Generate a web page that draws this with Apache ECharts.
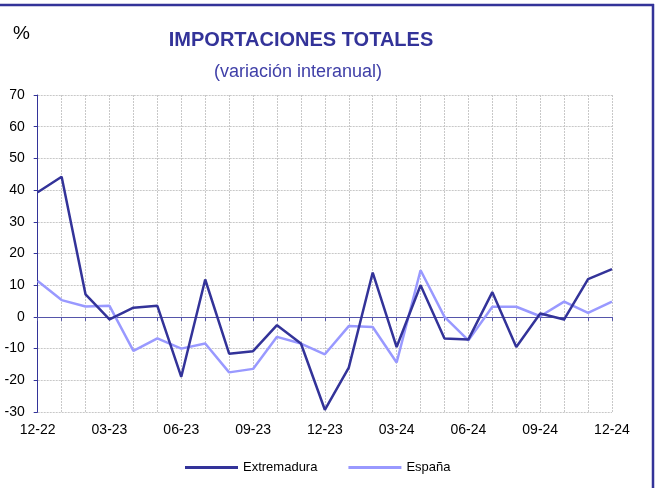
<!DOCTYPE html>
<html lang="es">
<head>
    <meta charset="UTF-8">
    <title>Importaciones totales</title>
    <script src="https://cdn.jsdelivr.net/npm/echarts@6/dist/echarts.min.js"></script>
    <style>
        html, body { margin: 0; padding: 0; background: #fff; }
    </style>
</head>
<body>
    <div id="main" style="width:656px;height:488px;"></div>
<script type="text/javascript">
    // meses (mm-aa)
    var meses = ['12-22', '01-23', '02-23', '03-23', '04-23', '05-23', '06-23', '07-23', '08-23', '09-23', '10-23', '11-23',
                 '12-23', '01-24', '02-24', '03-24', '04-24', '05-24', '06-24', '07-24', '08-24', '09-24', '10-24', '11-24', '12-24'];

    // variación interanual (%)
    var extremadura = [39.3, 44.2, 7.1, -0.8, 2.9, 3.5, -18.9, 11.8, -11.6, -10.8, -2.6, -8.4,
                       -29.3, -16.0, 14.0, -9.5, 10.0, -6.8, -7.1, 7.8, -9.5, 1.1, -0.8, 11.9, 15.1];
    var espana = [11.3, 5.3, 3.3, 3.5, -10.7, -6.8, -10.0, -8.4, -17.5, -16.4, -6.3, -8.4,
                  -11.8, -2.9, -3.2, -14.4, 14.7, 0.0, -7.4, 3.2, 3.2, 0.2, 4.8, 1.3, 4.8];

    var font = 'Liberation Sans, Arial, sans-serif';
    var azul = '#333399';
    var claro = '#9999ff';
    var gris = '#c8c8c8';

    var myChart = echarts.init(document.getElementById('main'));

    var option = {
        backgroundColor: '#fff',
        animation: false,
        title: [
            {
                text: 'IMPORTACIONES TOTALES',
                left: 296, top: 25, textAlign: 'center',
                textStyle: { fontFamily: font, fontSize: 20, fontWeight: 'bold', color: azul }
            },
            {
                text: '(variación interanual)',
                left: 293, top: 58, textAlign: 'center',
                textStyle: { fontFamily: font, fontSize: 18, fontWeight: 'normal', color: '#4040a8' }
            },
            {
                text: '%',
                left: 8, top: 19,
                textStyle: { fontFamily: font, fontSize: 19, fontWeight: 'normal', color: '#000' }
            }
        ],
        legend: {
            left: 180, top: 456,
            itemWidth: 53, itemHeight: 3, itemGap: 31,
            icon: 'rect',
            textStyle: { fontFamily: font, fontSize: 13, color: '#000' },
            data: ['Extremadura', 'España']
        },
        grid: { left: 37.7, right: 44, top: 95, bottom: 76, containLabel: false },
        xAxis: [
            {
                type: 'category',
                data: meses,
                boundaryGap: false,
                position: 'bottom',
                axisLine: { show: false, onZero: false },
                axisTick: { show: false },
                axisLabel: {
                    interval: 2, margin: 11,
                    fontFamily: font, fontSize: 14, color: '#000'
                },
                splitLine: {
                    show: true, interval: 0,
                    lineStyle: { color: gris, type: [2, 1], width: 1 }
                }
            },
            {
                // eje en el cero
                type: 'category',
                data: meses,
                boundaryGap: false,
                position: 'bottom',
                axisLine: { show: true, onZero: true, lineStyle: { color: '#5555aa', width: 1 } },
                axisTick: { show: true, interval: 0, length: 4, lineStyle: { color: '#5555aa' } },
                axisLabel: { show: false },
                splitLine: { show: false }
            }
        ],
        yAxis: {
            type: 'value',
            min: -30, max: 70, interval: 10,
            axisLine: { show: true, lineStyle: { color: azul, width: 1 } },
            axisTick: { show: true, length: 4, lineStyle: { color: azul } },
            axisLabel: { margin: 13, fontFamily: font, fontSize: 14, color: '#000' },
            splitLine: { show: true, lineStyle: { color: gris, type: [2, 1], width: 1 } }
        },
        series: [
            {
                name: 'Extremadura',
                type: 'line',
                data: extremadura,
                symbol: 'none',
                color: azul,
                lineStyle: { color: azul, width: 2.5 },
                z: 3
            },
            {
                name: 'España',
                type: 'line',
                data: espana,
                symbol: 'none',
                color: claro,
                lineStyle: { color: claro, width: 2.5 },
                z: 2
            }
        ],
        graphic: [
            // marco del gráfico
            { type: 'line', shape: { x1: 0, y1: 5, x2: 654, y2: 5 }, style: { stroke: azul, lineWidth: 2.5 } },
            { type: 'line', shape: { x1: 653, y1: 4, x2: 653, y2: 488 }, style: { stroke: azul, lineWidth: 2.5 } }
        ]
    };

    myChart.setOption(option);
</script>
</body>
</html>
